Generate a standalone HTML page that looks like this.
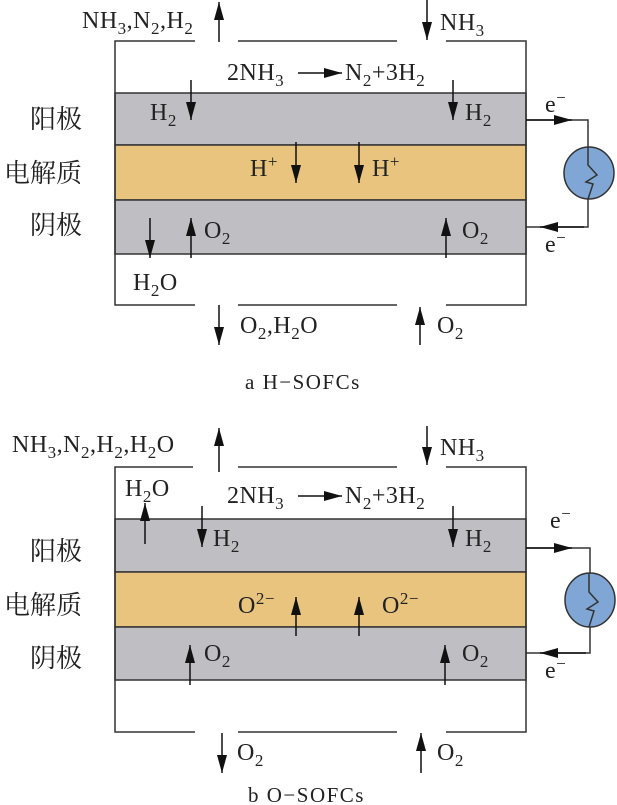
<!DOCTYPE html>
<html><head><meta charset="utf-8"><style>
html,body{margin:0;padding:0;background:#fff;}
svg{display:block;}
text{font-family:"Liberation Serif","Noto Serif CJK SC",serif;font-size:24px;fill:#222;letter-spacing:0.5px;}
.cn{font-family:"Noto Serif CJK SC","Noto Sans CJK SC",serif;font-size:26px;letter-spacing:0;}
.s{font-size:17px;}
</style></head><body>
<svg width="617" height="805" viewBox="0 0 617 805" xmlns="http://www.w3.org/2000/svg">
<defs>
<marker id="a" markerUnits="userSpaceOnUse" markerWidth="18" markerHeight="10" refX="18" refY="5" orient="auto" viewBox="0 0 18 10">
<path d="M0,0 L18,5 L0,10 z" fill="#111"/></marker>
</defs>
<g stroke="#333" stroke-width="1.5" fill="none">
<rect x="115" y="93" width="411" height="52" fill="#bfbfc3" stroke="#333"/>
<rect x="115" y="145" width="411" height="55" fill="#e8c47e" stroke="#333"/>
<rect x="115" y="200" width="411" height="54" fill="#bfbfc3" stroke="#333"/>
<path d="M195,41 H115 V305 H195 M238,41 H397 M446,41 H526 V305 H446 M238,305 H397"/>
<path d="M526,120 H588 V227 H526"/>
<ellipse cx="589" cy="173" rx="25" ry="26" fill="#7fa6d4"/>
<path d="M588,147 V165 L597,175 L586,182 L593,184 L588,199"/>
<rect x="115" y="519" width="411" height="53" fill="#bfbfc3" stroke="#333"/>
<rect x="115" y="572" width="411" height="55" fill="#e8c47e" stroke="#333"/>
<rect x="115" y="627" width="411" height="53" fill="#bfbfc3" stroke="#333"/>
<path d="M193,467 H115 V732 H195 M238,467 H397 M446,467 H526 V732 H446 M238,732 H397"/>
<path d="M526,548 H590 V653 H526"/>
<ellipse cx="590" cy="600" rx="25" ry="27" fill="#7fa6d4"/>
<path d="M589,573 V592 L598,602 L587,609 L594,611 L589,627"/>
</g>
<g stroke="#111" stroke-width="1.5" marker-end="url(#a)">
<line x1="219" y1="42" x2="219" y2="2"/>
<line x1="427" y1="0" x2="427" y2="40"/>
<line x1="298" y1="73" x2="342" y2="73"/>
<line x1="191" y1="80" x2="191" y2="120"/>
<line x1="453" y1="80" x2="453" y2="120"/>
<line x1="296" y1="142" x2="296" y2="183"/>
<line x1="359" y1="142" x2="359" y2="183"/>
<line x1="150" y1="218" x2="150" y2="258"/>
<line x1="191" y1="258" x2="191" y2="218"/>
<line x1="446" y1="258" x2="446" y2="218"/>
<line x1="219" y1="305" x2="219" y2="345"/>
<line x1="420" y1="345" x2="420" y2="307"/>
<line x1="526" y1="120" x2="572" y2="120"/>
<line x1="584" y1="227" x2="540" y2="227"/>
<line x1="219" y1="472" x2="219" y2="428"/>
<line x1="427" y1="426" x2="427" y2="465"/>
<line x1="298" y1="496" x2="342" y2="496"/>
<line x1="145" y1="544" x2="145" y2="503"/>
<line x1="202" y1="506" x2="202" y2="547"/>
<line x1="453" y1="506" x2="453" y2="547"/>
<line x1="296" y1="636" x2="296" y2="597"/>
<line x1="359" y1="636" x2="359" y2="597"/>
<line x1="190" y1="685" x2="190" y2="645"/>
<line x1="445" y1="685" x2="445" y2="645"/>
<line x1="222" y1="733" x2="222" y2="773"/>
<line x1="421" y1="773" x2="421" y2="733"/>
<line x1="526" y1="548" x2="572" y2="548"/>
<line x1="586" y1="653" x2="540" y2="653"/>
</g>
<text x="82" y="28">NH<tspan class="s" dy="6">3</tspan><tspan dy="-6">,N</tspan><tspan class="s" dy="6">2</tspan><tspan dy="-6">,H</tspan><tspan class="s" dy="6">2</tspan></text>
<text x="440" y="30">NH<tspan class="s" dy="6">3</tspan></text>
<text x="227" y="80">2NH<tspan class="s" dy="6">3</tspan></text>
<text x="345" y="80">N<tspan class="s" dy="6">2</tspan><tspan dy="-6">+3H</tspan><tspan class="s" dy="6">2</tspan></text>
<text x="150" y="120">H<tspan class="s" dy="6">2</tspan></text>
<text x="465" y="120">H<tspan class="s" dy="6">2</tspan></text>
<text x="250" y="176">H<tspan class="s" dy="-9">+</tspan></text>
<text x="372" y="176">H<tspan class="s" dy="-9">+</tspan></text>
<text x="204" y="238">O<tspan class="s" dy="6">2</tspan></text>
<text x="462" y="238">O<tspan class="s" dy="6">2</tspan></text>
<text x="133" y="290">H<tspan class="s" dy="6">2</tspan><tspan dy="-6">O</tspan></text>
<text x="240" y="333">O<tspan class="s" dy="6">2</tspan><tspan dy="-6">,H</tspan><tspan class="s" dy="6">2</tspan><tspan dy="-6">O</tspan></text>
<text x="437" y="333">O<tspan class="s" dy="6">2</tspan></text>
<text x="545" y="112">e<tspan class="s" dy="-9">−</tspan></text>
<text x="545" y="252">e<tspan class="s" dy="-9">−</tspan></text>
<text class="cn" x="30" y="128">阳极</text>
<text class="cn" x="4" y="182">电解质</text>
<text class="cn" x="30" y="234">阴极</text>
<text x="245" y="389" style="font-size:21px;letter-spacing:1.5px">a  H−SOFCs</text>
<text x="12" y="452">NH<tspan class="s" dy="6">3</tspan><tspan dy="-6">,N</tspan><tspan class="s" dy="6">2</tspan><tspan dy="-6">,H</tspan><tspan class="s" dy="6">2</tspan><tspan dy="-6">,H</tspan><tspan class="s" dy="6">2</tspan><tspan dy="-6">O</tspan></text>
<text x="440" y="455">NH<tspan class="s" dy="6">3</tspan></text>
<text x="125" y="496">H<tspan class="s" dy="6">2</tspan><tspan dy="-6">O</tspan></text>
<text x="227" y="503">2NH<tspan class="s" dy="6">3</tspan></text>
<text x="345" y="503">N<tspan class="s" dy="6">2</tspan><tspan dy="-6">+3H</tspan><tspan class="s" dy="6">2</tspan></text>
<text x="213" y="546">H<tspan class="s" dy="6">2</tspan></text>
<text x="465" y="546">H<tspan class="s" dy="6">2</tspan></text>
<text x="238" y="613">O<tspan class="s" dy="-9">2−</tspan></text>
<text x="382" y="613">O<tspan class="s" dy="-9">2−</tspan></text>
<text x="204" y="661">O<tspan class="s" dy="6">2</tspan></text>
<text x="462" y="661">O<tspan class="s" dy="6">2</tspan></text>
<text x="237" y="760">O<tspan class="s" dy="6">2</tspan></text>
<text x="437" y="760">O<tspan class="s" dy="6">2</tspan></text>
<text x="550" y="528">e<tspan class="s" dy="-9">−</tspan></text>
<text x="545" y="678">e<tspan class="s" dy="-9">−</tspan></text>
<text class="cn" x="30" y="560">阳极</text>
<text class="cn" x="4" y="614">电解质</text>
<text class="cn" x="30" y="667">阴极</text>
<text x="248" y="802" style="font-size:21px;letter-spacing:1.5px">b  O−SOFCs</text>
</svg>
</body></html>
